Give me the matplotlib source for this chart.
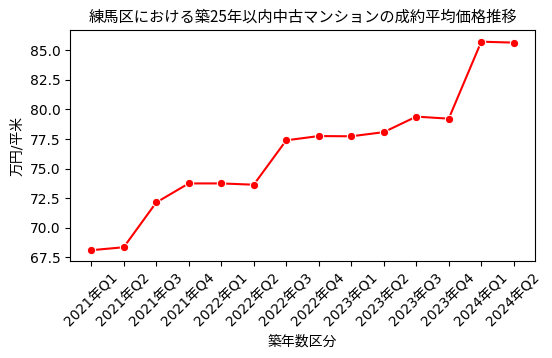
import matplotlib
matplotlib.use("Agg")
import matplotlib.pyplot as plt

plt.rcParams['font.family'] = ['DejaVu Sans', 'Noto Sans CJK JP']

quarters = ["2021年Q1", "2021年Q2", "2021年Q3", "2021年Q4",
            "2022年Q1", "2022年Q2", "2022年Q3", "2022年Q4",
            "2023年Q1", "2023年Q2", "2023年Q3", "2023年Q4",
            "2024年Q1", "2024年Q2"]
prices = [68.11, 68.36, 72.14, 73.75, 73.75, 73.64, 77.39, 77.75,
          77.73, 78.08, 79.39, 79.22, 85.72, 85.64]

fig, ax = plt.subplots(figsize=(5.52, 3.58), dpi=100)
x = list(range(len(quarters)))
ax.plot(x, prices, color='red', marker='o', markersize=6,
        markeredgecolor='white', markeredgewidth=0.75, linewidth=1.5)
ax.set_xticks(x)
ax.set_xticklabels(quarters, rotation=45)
ax.set_xlim(-0.65, 13.65)
ax.set_ylim(67.2, 86.7)
ax.set_yticks([67.5, 70.0, 72.5, 75.0, 77.5, 80.0, 82.5, 85.0])
ax.set_xlabel("築年数区分")
ax.set_ylabel("万円/平米")
ax.set_title("練馬区における築25年以内中古マンションの成約平均価格推移",
             family=['Noto Sans CJK JP', 'DejaVu Sans'], fontsize=11)
fig.subplots_adjust(left=0.127, right=0.969, top=0.916, bottom=0.271)
fig.savefig("out.png", dpi=100)
